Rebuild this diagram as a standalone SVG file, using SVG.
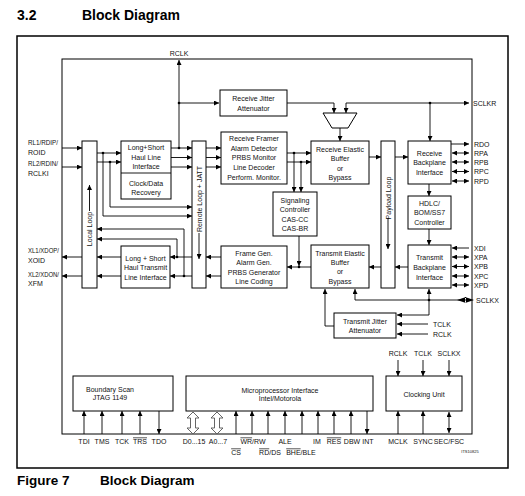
<svg xmlns="http://www.w3.org/2000/svg" width="525" height="496" viewBox="0 0 525 496">
<defs>
<style>
.box{fill:#fff;stroke:#000;stroke-width:1}
.ln{fill:none;stroke:#000;stroke-width:0.9}
.ar{marker-end:url(#ah)}
.da{marker-start:url(#ah);marker-end:url(#ah)}
.t{font-family:"Liberation Sans",Arial,sans-serif;font-size:7px;fill:#111;text-anchor:middle}
.l{font-family:"Liberation Sans",Arial,sans-serif;font-size:7px;fill:#111;text-anchor:start}
.h{font-family:"Liberation Sans",Arial,sans-serif;font-weight:bold;fill:#000}
.ov{text-decoration:overline}
.dot{fill:#000}
.hol{fill:#fff;stroke:#555;stroke-width:0.9}
</style>
<marker id="ah" viewBox="0 0 10 10" refX="10" refY="5" markerWidth="6" markerHeight="5" orient="auto-start-reverse" markerUnits="userSpaceOnUse">
<path d="M0,0 L10,5 L0,10 z" fill="#000"/>
</marker>
</defs>
<rect width="525" height="496" fill="#fff"/>
<text class="h" x="17" y="20" font-size="14">3.2</text>
<text class="h" x="82" y="20" font-size="14">Block Diagram</text>
<text class="h" x="17" y="485" font-size="13.5">Figure 7</text>
<text class="h" x="100" y="485" font-size="13.5">Block Diagram</text>
<rect x="17" y="36" width="491" height="432" fill="none" stroke="#000" stroke-width="1.5"/>
<rect x="62" y="59" width="410" height="375" fill="none" stroke="#000" stroke-width="1"/>

<g id="connectors">
<path class="ln ar" d="M179,148 V60"/>
<path class="ln ar" d="M179,103 H219"/>
<path class="ln ar" d="M287,103 H334 V113"/>
<path class="ln ar" d="M346,103 V113"/>
<path class="ln ar" d="M346,103 H469"/>
<path class="ln ar" d="M430,103 V141"/>
<path class="ln ar" d="M340,128 V141"/>
<path class="ln ar" d="M62,148 H82"/>
<path class="ln ar" d="M62,167 H82"/>
<path class="ln ar" d="M97,153 H121"/>
<path class="ln ar" d="M97,162 H121"/>
<path class="ln ar" d="M103,153 V216 H192"/>
<path class="ln ar" d="M110,162 V207 H192"/>
<path class="ln ar" d="M171,148 H192"/>
<path class="ln ar" d="M171,157.5 H192"/>
<path class="ln ar" d="M171,167 H192"/>
<path class="ln ar" d="M206,148 H221"/>
<path class="ln ar" d="M206,157.5 H221"/>
<path class="ln ar" d="M206,167 H221"/>
<path class="ln ar" d="M287,153 H311"/>
<path class="ln ar" d="M287,162 H311"/>
<path class="ln ar" d="M294,153 V192"/>
<path class="ln ar" d="M301,162 V192"/>
<path class="ln ar" d="M369,157 H381"/>
<path class="ln ar" d="M395,157 H408"/>
<path class="ln ar" d="M451,144 H469"/>
<path class="ln da" d="M452,153 H469"/>
<path class="ln da" d="M452,162 H469"/>
<path class="ln da" d="M452,171.5 H469"/>
<path class="ln da" d="M452,181 H469"/>
<path class="ln ar" d="M429,184 V196"/>
<path class="ln ar" d="M429,229 V245"/>
<path class="ln ar" d="M469,248 H452"/>
<path class="ln da" d="M452,257 H469"/>
<path class="ln da" d="M452,266.5 H469"/>
<path class="ln da" d="M452,276 H469"/>
<path class="ln da" d="M452,285 H469"/>
<path class="ln ar" d="M408,267 H395"/>
<path class="ln ar" d="M381,267 H369"/>
<path class="ln ar" d="M311,267 H287"/>
<path class="ln ar" d="M299,236 V266"/>
<path class="ln ar" d="M221,257 H206"/>
<path class="ln ar" d="M221,276 H206"/>
<path class="ln ar" d="M192,257 H170"/>
<path class="ln ar" d="M192,276 H170"/>
<path class="ln ar" d="M177,257 V239 H97"/>
<path class="ln ar" d="M184,276 V229 H97"/>
<path class="ln ar" d="M121,257 H97"/>
<path class="ln ar" d="M121,276 H97"/>
<path class="ln ar" d="M82,257 H62"/>
<path class="ln ar" d="M82,276 H62"/>
<path class="ln ar" d="M457,300 H355 V289"/>
<path d="M457,300 L466,297 L466,303 z M474,300 L465,297 L465,303 z" fill="#000"/>
<path class="ln" d="M457,300 H466" stroke-width="2"/>
<path class="ln ar" d="M429,315 V289"/>
<path class="ln ar" d="M429,315 H397"/>
<path class="ln ar" d="M428,324 H397"/>
<path class="ln ar" d="M428,334 H397"/>
<path class="ln ar" d="M334,326 H325 V289"/>
<path class="ln ar" d="M398,360 V376"/>
<path class="ln ar" d="M423,360 V376"/>
<path class="ln ar" d="M449,360 V376"/>
<path class="ln ar" d="M84,434 V411"/>
<path class="ln ar" d="M102,434 V411"/>
<path class="ln ar" d="M122,434 V411"/>
<path class="ln ar" d="M140,434 V411"/>
<path class="ln ar" d="M159,411 V434"/>
<path class="ln ar" d="M236,434 V411"/>
<path class="ln ar" d="M252,434 V411"/>
<path class="ln ar" d="M268,434 V411"/>
<path class="ln ar" d="M285,434 V411"/>
<path class="ln ar" d="M302,434 V411"/>
<path class="ln ar" d="M318,434 V411"/>
<path class="ln ar" d="M334,434 V411"/>
<path class="ln ar" d="M351,434 V411"/>
<path class="ln ar" d="M367,411 V434"/>
<path class="ln ar" d="M398,434 V411" stroke="#666"/>
<path class="ln ar" d="M423,434 V411"/>
<path class="ln da" d="M449,433 V412"/>
<path class="hol" d="M193,412 L199,418 H195.5 V428 H199 L193,434 L187,428 H190.5 V418 H187 z"/>
<path class="hol" d="M217,412 L223,418 H219.5 V428 H223 L217,434 L211,428 H214.5 V418 H211 z"/>
<circle class="dot" cx="179" cy="148" r="1.3"/>
<circle class="dot" cx="179" cy="103" r="1.3"/>
<circle class="dot" cx="430" cy="103" r="1.3"/>
<circle class="dot" cx="103" cy="153" r="1.3"/>
<circle class="dot" cx="110" cy="162" r="1.3"/>
<circle class="dot" cx="294" cy="153" r="1.3"/>
<circle class="dot" cx="301" cy="162" r="1.3"/>
<circle class="dot" cx="299" cy="267" r="1.3"/>
<circle class="dot" cx="177" cy="257" r="1.3"/>
<circle class="dot" cx="184" cy="276" r="1.3"/>
<circle class="dot" cx="429" cy="300" r="1.3"/>
</g>

<g id="rxjit"><rect class="box" x="220" y="90" width="67" height="26"/>
<text class="t" x="253.5" y="101">Receive Jitter</text><text class="t" x="253.5" y="111">Attenuator</text></g>
<g id="mux"><polygon class="box" points="323,113 357,113 348,128 332,128"/></g>
<g id="rxframer"><rect class="box" x="221" y="132" width="66" height="52"/>
<text class="t" x="254" y="140.5">Receive Framer</text><text class="t" x="254" y="150.5">Alarm Detector</text><text class="t" x="254" y="160">PRBS Monitor</text><text class="t" x="254" y="169.5">Line Decoder</text><text class="t" x="254" y="179.5">Perform. Monitor.</text></g>
<g id="rxelastic"><rect class="box" x="311" y="141" width="58" height="43"/>
<text class="t" x="340" y="151.5">Receive Elastic</text><text class="t" x="340" y="161">Buffer</text><text class="t" x="340" y="170.5">or</text><text class="t" x="340" y="180">Bypass</text></g>
<g id="payload"><rect class="box" x="381" y="141" width="14" height="147"/>
<text class="t" x="390.5" y="198" transform="rotate(-90 390.5 198)">Payload Loop</text>
<path class="ln ar" d="M388,218 V249"/></g>
<g id="rxbp"><rect class="box" x="408" y="141" width="43" height="43"/>
<text class="t" x="429.5" y="155.5">Receive</text><text class="t" x="429.5" y="165">Backplane</text><text class="t" x="429.5" y="174.5">Interface</text></g>
<g id="hdlc"><rect class="box" x="408" y="196" width="43" height="33"/>
<text class="t" x="429.5" y="205.5">HDLC/</text><text class="t" x="429.5" y="215">BOM/SS7</text><text class="t" x="429.5" y="224.5">Controller</text></g>
<g id="txbp"><rect class="box" x="408" y="245" width="43" height="43"/>
<text class="t" x="429.5" y="259.5">Transmit</text><text class="t" x="429.5" y="269.5">Backplane</text><text class="t" x="429.5" y="279.5">Interface</text></g>
<g id="txelastic"><rect class="box" x="311" y="245" width="58" height="43"/>
<text class="t" x="340" y="255.5">Transmit Elastic</text><text class="t" x="340" y="264.5">Buffer</text><text class="t" x="340" y="274">or</text><text class="t" x="340" y="283.5">Bypass</text></g>
<g id="sigctrl"><rect class="box" x="273" y="192" width="44" height="44"/>
<text class="t" x="295" y="202.5">Signaling</text><text class="t" x="295" y="211.5">Controller</text><text class="t" x="295" y="221.5">CAS-CC</text><text class="t" x="295" y="230.5">CAS-BR</text></g>
<g id="framegen"><rect class="box" x="221" y="246" width="66" height="42"/>
<text class="t" x="254" y="255.5">Frame Gen.</text><text class="t" x="254" y="265">Alarm Gen.</text><text class="t" x="254" y="274.5">PRBS Generator</text><text class="t" x="254" y="284">Line Coding</text></g>
<g id="txjit"><rect class="box" x="334" y="313" width="62" height="25"/>
<text class="t" x="365" y="323.5">Transmit Jitter</text><text class="t" x="365" y="332.5">Attenuator</text></g>
<g id="remote"><rect class="box" x="192" y="141" width="14" height="147"/>
<text class="t" x="201.5" y="199" transform="rotate(-90 201.5 199)">Remote Loop + JATT</text>
<path class="ln ar" d="M199,233 V259"/></g>
<g id="local"><rect class="box" x="82" y="141" width="15" height="147"/>
<text class="t" x="92" y="229" transform="rotate(-90 92 229)">Local Loop</text>
<path class="ln ar" d="M89.5,211 V185"/></g>
<g id="lsrx"><rect class="box" x="121" y="141" width="50" height="58"/><path class="ln" d="M121,173 H171"/>
<text class="t" x="146" y="149.5">Long+Short</text><text class="t" x="146" y="159.5">Haul Line</text><text class="t" x="146" y="169">Interface</text><text class="t" x="146" y="185.5">Clock/Data</text><text class="t" x="146" y="194.5">Recovery</text></g>
<g id="lstx"><rect class="box" x="121" y="246" width="49" height="42"/>
<text class="t" x="145.5" y="260.5">Long + Short</text><text class="t" x="145.5" y="269.5">Haul Transmit</text><text class="t" x="145.5" y="279.5">Line Interface</text></g>
<g id="bscan"><rect class="box" x="73" y="376" width="100" height="35"/>
<text class="t" x="110" y="392">Boundary Scan</text><text class="t" x="110" y="400">JTAG 1149</text></g>
<g id="upif"><rect class="box" x="186" y="376" width="187" height="35"/>
<text class="t" x="280" y="392.5">Microprocessor Interface</text><text class="t" x="280" y="401">Intel/Motorola</text></g>
<g id="clock"><rect class="box" x="386" y="376" width="76" height="35"/>
<text class="t" x="424" y="396.5">Clocking Unit</text></g>

<g id="labels">
<text class="t" x="179" y="56">RCLK</text>
<text class="l" x="28" y="144.5" textLength="30" lengthAdjust="spacingAndGlyphs">RL1/RDIP/</text><text class="l" x="28" y="154.5">ROID</text>
<text class="l" x="28" y="165.5" textLength="30" lengthAdjust="spacingAndGlyphs">RL2/RDIN/</text><text class="l" x="28" y="175.5">RCLKI</text>
<text class="l" x="28" y="252.5" textLength="31" lengthAdjust="spacingAndGlyphs">XL1/XDOP/</text><text class="l" x="28" y="262.5">XOID</text>
<text class="l" x="28" y="276.5" textLength="31" lengthAdjust="spacingAndGlyphs">XL2/XDON/</text><text class="l" x="28" y="285.5">XFM</text>
<text class="l" x="473" y="105.5">SCLKR</text>
<text class="l" x="474" y="146.5">RDO</text><text class="l" x="474" y="155.5">RPA</text><text class="l" x="474" y="164.5">RPB</text><text class="l" x="474" y="174">RPC</text><text class="l" x="474" y="183.5">RPD</text>
<text class="l" x="474" y="250.5">XDI</text><text class="l" x="474" y="259.5">XPA</text><text class="l" x="474" y="269">XPB</text><text class="l" x="474" y="278.5">XPC</text><text class="l" x="474" y="287.5">XPD</text>
<text class="l" x="476" y="302.5">SCLKX</text>
<text class="l" x="433" y="326.5">TCLK</text><text class="l" x="433" y="336.5">RCLK</text>
<text class="t" x="398" y="356">RCLK</text><text class="t" x="423" y="356">TCLK</text><text class="t" x="449" y="356">SCLKX</text>
<text class="t" x="84" y="443.5">TDI</text><text class="t" x="102" y="443.5">TMS</text><text class="t" x="122" y="443.5">TCK</text><text class="t ov" x="140" y="443.5">TRS</text><text class="t" x="159" y="443.5">TDO</text>
<text class="t" x="194" y="443.5">D0...15</text><text class="t" x="218" y="443.5">A0...7</text>
<text class="t" x="253" y="443.5"><tspan class="ov">WR</tspan>/RW</text>
<text class="t" x="285" y="443.5">ALE</text><text class="t" x="317" y="443.5">IM</text><text class="t ov" x="334" y="443.5">RES</text><text class="t" x="352" y="443.5">DBW</text><text class="t" x="368" y="443.5">INT</text>
<text class="t ov" x="236" y="454.5">CS</text><text class="t" x="270" y="454.5"><tspan class="ov">RD</tspan>/DS</text><text class="t" x="301" y="454.5"><tspan class="ov">BHE</tspan>/BLE</text>
<text class="t" x="398" y="443.5">MCLK</text><text class="t" x="423" y="443.5">SYNC</text><text class="t" x="449" y="443.5">SEC/FSC</text>
<text class="t" x="470" y="453" style="font-size:4px">ITS10825</text>
</g>
</svg>
